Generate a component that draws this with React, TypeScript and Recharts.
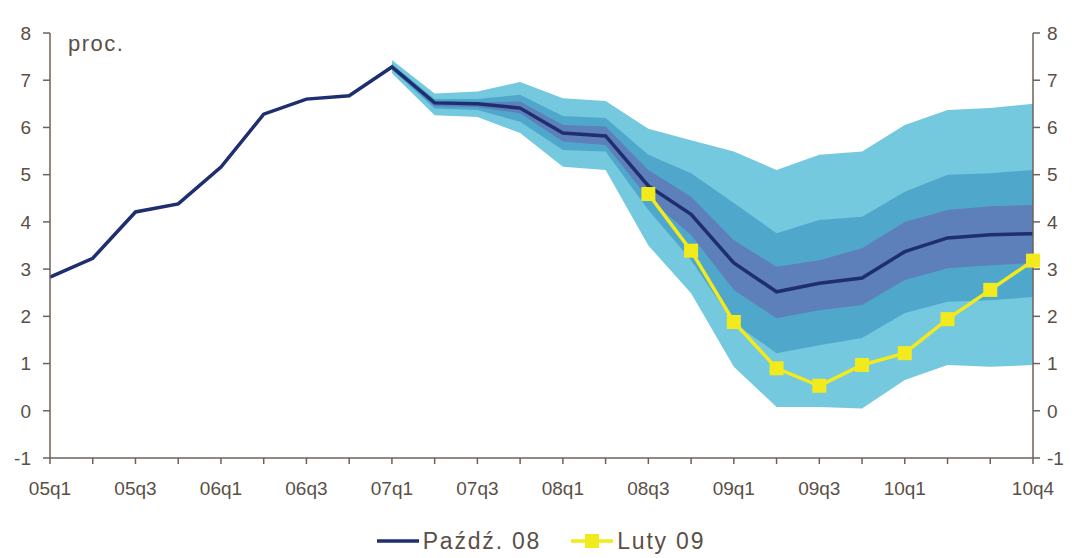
import React from "react"
import { ComposedChart, Area, Line, XAxis, YAxis, Legend } from "recharts"

// quarters on the x axis
const quarters = [
    "05q1", "05q2", "05q3", "05q4", "06q1", "06q2", "06q3", "06q4",
    "07q1", "07q2", "07q3", "07q4", "08q1", "08q2", "08q3", "08q4",
    "09q1", "09q2", "09q3", "09q4", "10q1", "10q2", "10q3", "10q4",
]

// October 08 projection (central path)
const pazdz08 = [2.83, 3.23, 4.21, 4.38, 5.16, 6.28, 6.6, 6.67, 7.28, 6.52, 6.5, 6.41, 5.88, 5.82, 4.76, 4.16, 3.13, 2.52, 2.7, 2.81, 3.37, 3.66, 3.73, 3.75]
// February 09 projection
const luty09 = [null, null, null, null, null, null, null, null, null, null, null, null, null, null, 4.59, 3.39, 1.88, 0.9, 0.53, 0.97, 1.22, 1.94, 2.56, 3.18]

// fan chart bands
const outerLow = [null, null, null, null, null, null, null, null, 7.15, 6.26, 6.22, 5.88, 5.17, 5.1, 3.5, 2.49, 0.93, 0.08, 0.08, 0.05, 0.65, 0.97, 0.93, 0.97]
const outerHigh = [null, null, null, null, null, null, null, null, 7.43, 6.72, 6.76, 6.96, 6.62, 6.56, 5.97, 5.73, 5.49, 5.1, 5.42, 5.49, 6.05, 6.37, 6.41, 6.5]
const midLow = [null, null, null, null, null, null, null, null, 7.22, 6.4, 6.37, 6.12, 5.52, 5.49, 4.25, 3.19, 1.86, 1.22, 1.39, 1.54, 2.07, 2.31, 2.34, 2.41]
const midHigh = [null, null, null, null, null, null, null, null, 7.35, 6.6, 6.6, 6.69, 6.24, 6.2, 5.42, 5.03, 4.4, 3.76, 4.04, 4.11, 4.64, 5.0, 5.03, 5.1]
const innerLow = [null, null, null, null, null, null, null, null, 7.25, 6.45, 6.43, 6.3, 5.7, 5.63, 4.5, 3.72, 2.56, 1.96, 2.13, 2.24, 2.77, 3.02, 3.08, 3.13]
const innerHigh = [null, null, null, null, null, null, null, null, 7.31, 6.56, 6.53, 6.55, 6.05, 6.02, 5.1, 4.53, 3.61, 3.05, 3.19, 3.44, 4.0, 4.25, 4.33, 4.36]

const yTicks = [-1, 0, 1, 2, 3, 4, 5, 6, 7, 8]

const range = (lo: (number | null)[], hi: (number | null)[], i: number) =>
    lo[i] == null || hi[i] == null ? null : [lo[i], hi[i]]

const data = quarters.map((q, i) => ({
    q,
    pazdz: pazdz08[i],
    luty: luty09[i],
    outer: range(outerLow, outerHigh, i),
    mid: range(midLow, midHigh, i),
    inner: range(innerLow, innerHigh, i),
}))

const AXIS = "#6e6258"
const TEXT = "#5a4f46"
const NAVY = "#1f2e6e"
const YELLOW = "#f2ea1d"
const FONT = "'Liberation Sans', Arial, sans-serif"

const tickFmt = (v: string, i: number) => ((i % 2 === 0 && i <= 20) || i === 23 ? v : "")

const SquareDot = (props: any) => {
    const { cx, cy, value } = props
    if (value == null || cx == null || cy == null) return null
    return <rect x={cx - 7} y={cy - 7} width={14} height={14} fill={YELLOW} />
}

const LegendContent = () => (
    <div style={{ display: "flex", justifyContent: "center", alignItems: "center", height: 50, paddingTop: 16, boxSizing: "border-box", fontFamily: FONT, fontSize: 23, letterSpacing: 1.8, color: TEXT }}>
        <svg width={42} height={14} style={{ marginRight: 4 }}>
            <line x1={0} y1={7} x2={42} y2={7} stroke={NAVY} strokeWidth={3.5} />
        </svg>
        <span style={{ marginRight: 30 }}>Paźdź. 08</span>
        <svg width={42} height={14} style={{ marginRight: 4 }}>
            <line x1={0} y1={7} x2={42} y2={7} stroke={YELLOW} strokeWidth={3.5} />
            <rect x={14} y={0} width={14} height={14} fill={YELLOW} />
        </svg>
        <span>Luty 09</span>
    </div>
)

export default function App() {
    const tick = { fill: TEXT, fontSize: 19, fontFamily: FONT }
    return (
        <div style={{ position: "absolute", left: 0, top: 0, width: 1082, height: 558, background: "#fff" }}>
            <ComposedChart width={1082} height={558} data={data} margin={{ top: 33, right: 0, bottom: 0, left: 0 }}>
                <XAxis
                    dataKey="q"
                    interval={0}
                    tickFormatter={tickFmt}
                    tick={tick}
                    tickSize={6}
                    tickMargin={18}
                    height={50}
                    axisLine={{ stroke: AXIS, strokeWidth: 1.5 }}
                    tickLine={{ stroke: AXIS, strokeWidth: 1.5 }}
                />
                <YAxis
                    yAxisId="left"
                    domain={[-1, 8]}
                    ticks={yTicks}
                    interval={0}
                    width={50}
                    tick={tick}
                    tickSize={7}
                    tickMargin={12}
                    axisLine={{ stroke: AXIS, strokeWidth: 1.5 }}
                    tickLine={{ stroke: AXIS, strokeWidth: 1.5 }}
                />
                <YAxis
                    yAxisId="right"
                    orientation="right"
                    domain={[-1, 8]}
                    ticks={yTicks}
                    interval={0}
                    width={49}
                    tick={tick}
                    tickSize={7}
                    tickMargin={7}
                    axisLine={{ stroke: AXIS, strokeWidth: 1.5 }}
                    tickLine={{ stroke: AXIS, strokeWidth: 1.5 }}
                />
                <Legend verticalAlign="bottom" height={50} content={<LegendContent />} />
                <Area yAxisId="left" dataKey="outer" stroke="none" fill="#74c9df" fillOpacity={1} isAnimationActive={false} legendType="none" />
                <Area yAxisId="left" dataKey="mid" stroke="none" fill="#4fa8cc" fillOpacity={1} isAnimationActive={false} legendType="none" />
                <Area yAxisId="left" dataKey="inner" stroke="none" fill="#5d7fba" fillOpacity={1} isAnimationActive={false} legendType="none" />
                <Line yAxisId="left" dataKey="pazdz" stroke={NAVY} strokeWidth={3.5} dot={false} isAnimationActive={false} />
                <Line yAxisId="right" dataKey="luty" stroke={YELLOW} strokeWidth={3.5} dot={<SquareDot />} activeDot={false} isAnimationActive={false} />
            </ComposedChart>
            <div style={{ position: "absolute", left: 68, top: 31, fontFamily: FONT, fontSize: 22, letterSpacing: 1.5, color: TEXT }}>
                proc.
            </div>
        </div>
    )
}
